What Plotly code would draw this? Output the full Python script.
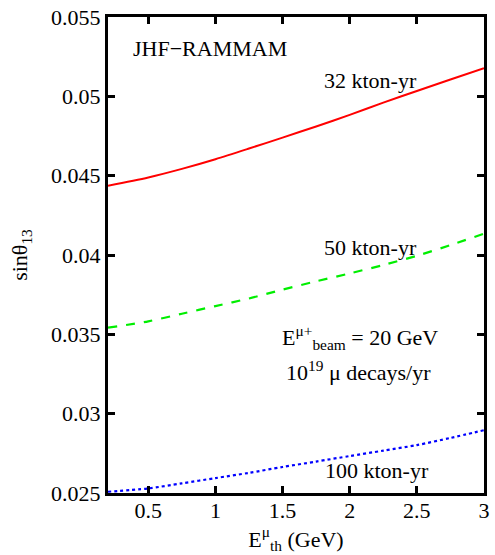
import plotly.graph_objects as go

e_th = [0.2, 0.5, 0.75, 1.0, 1.25, 1.5, 1.75, 2.0, 2.25, 2.5, 2.75, 3.0]
sin_32 = [0.04437, 0.04489, 0.04543, 0.04604, 0.04671, 0.04740, 0.04810, 0.04883, 0.04960, 0.05034, 0.05106, 0.05177]
sin_50 = [0.03542, 0.03582, 0.03630, 0.03678, 0.03726, 0.03782, 0.03834, 0.03884, 0.03937, 0.03995, 0.04062, 0.04135]
sin_100 = [0.02508, 0.02529, 0.02561, 0.02594, 0.02627, 0.02664, 0.02698, 0.02733, 0.02767, 0.02802, 0.02847, 0.02896]

FONT = "Liberation Serif"
FS = 22

fig = go.Figure()
fig.add_trace(go.Scatter(x=e_th, y=sin_32, mode="lines", line=dict(color="#ff0000", width=2, shape="spline", smoothing=0.8), showlegend=False))
fig.add_trace(go.Scatter(x=e_th, y=sin_50, mode="lines", line=dict(color="#00ee00", width=2.2, dash="dash", shape="spline", smoothing=0.8), showlegend=False))
fig.add_trace(go.Scatter(x=e_th, y=sin_100, mode="lines", line=dict(color="#0000ff", width=2.2, dash="dot", shape="spline", smoothing=0.8), showlegend=False))

axis_common = dict(showline=True, linecolor="black", linewidth=3, mirror="ticks",
                   ticks="inside", ticklen=7, tickwidth=3, tickcolor="black",
                   showgrid=False, zeroline=False,
                   tickfont=dict(family=FONT, size=FS, color="black"))

fig.update_xaxes(range=[0.2, 3.0], tickvals=[0.5, 1, 1.5, 2, 2.5, 3], ticklabelstandoff=-4,
                 title=dict(text="E<sup>μ</sup><sub>th</sub> (GeV)", font=dict(family=FONT, size=FS, color="black"), standoff=0),
                 **axis_common)
fig.update_yaxes(range=[0.025, 0.055], tickvals=[0.025, 0.03, 0.035, 0.04, 0.045, 0.05, 0.055],
                 ticktext=["0.025", "0.03", "0.035", "0.04", "0.045", "0.05", "0.055"],
                 title=dict(text="sinθ<sub>13</sub>", font=dict(family=FONT, size=FS, color="black"), standoff=18),
                 **axis_common)

def ann(x, y, text, anchor="left"):
    fig.add_annotation(x=x, y=y, xref="x", yref="y", text=text, showarrow=False,
                       xanchor=anchor, yanchor="middle", font=dict(family=FONT, size=FS, color="black"))

ann(0.37, 0.0530, "JHF−RAMMAM")
ann(1.79, 0.0510, "32 kton-yr")
ann(1.79, 0.0405, "50 kton-yr")
ann(1.48, 0.0348, "E<sup>μ+</sup><sub>beam</sub> = 20 GeV")
ann(1.51, 0.0327, "10<sup>19</sup> μ decays/yr")
ann(1.80, 0.0264, "100 kton-yr")

fig.update_layout(width=495, height=555, margin=dict(l=108, r=5, t=17, b=62),
                  paper_bgcolor="white", plot_bgcolor="white")

fig.write_html("out.html")
